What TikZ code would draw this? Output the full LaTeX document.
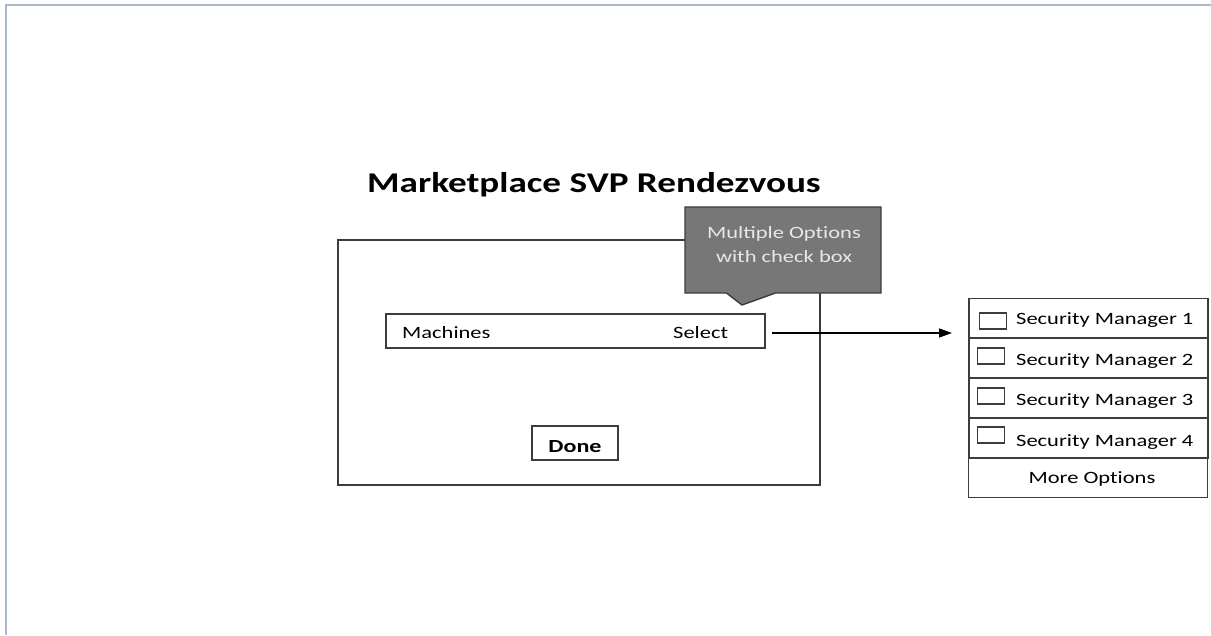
\documentclass[tikz,border=0pt]{standalone}
\usepackage{fontspec}
\setmainfont{Carlito}[FakeStretch=1.3]
\usetikzlibrary{shapes.callouts,arrows.meta}
\definecolor{frameblue}{HTML}{A9BACF}
\definecolor{edge}{HTML}{3C3C3C}
\definecolor{calloutgray}{HTML}{777777}
\definecolor{callouttext}{HTML}{E8E8E8}
\tikzset{
  box/.style={draw=edge, line width=1.4pt, rectangle, inner sep=0pt},
  rowbox/.style={box, minimum width=239pt, minimum height=40pt},
  tick/.style={box, line width=1.1pt, minimum width=27pt, minimum height=16pt},
  label/.style={inner sep=0pt, font=\fontsize{17.3}{20}\selectfont},
  conn/.style={draw=black, line width=1.3pt, -{Triangle[length=13pt,width=9pt]}}
}
\begin{document}
\begin{tikzpicture}[x=1pt,y=-1pt]
\useasboundingbox (0,0) rectangle (1211,635);
% page frame
\draw[frameblue, line width=2pt] (6,635) -- (6,5) -- (1211,5);

% title
\node[inner sep=0pt, anchor=base, font=\bfseries\fontsize{28.6}{32}\selectfont] (title) at (594,192) {Marketplace SVP Rendezvous};

% dialog window
\node[box, minimum width=482pt, minimum height=245pt] (dialog) at (579,362.5) {};
\node[box, minimum width=379pt, minimum height=34pt] (mach) at (575.5,331) {};
\node[label, anchor=base west] (machtxt) at (402,338) {Machines};
\node[label, anchor=base west] (seltxt) at (673,338) {Select};
\node[box, minimum width=86pt, minimum height=34pt] (done) at (575,443) {};
\node[inner sep=0pt, anchor=base, font=\bfseries\fontsize{18.5}{22}\selectfont] (donetxt) at (575,452) {Done};

% callout note
\node[rectangle callout, draw=edge, line width=1.4pt, fill=calloutgray,
      minimum width=196pt, minimum height=86pt, inner sep=0pt,
      callout absolute pointer={(742,305)}, callout pointer width=49pt] (note) at (783,250) {};
\node[label, anchor=base, text=callouttext] (note1) at (784,238) {Multiple Opt\kern0pt ions};
\node[label, anchor=base, text=callouttext] (note2) at (784,262) {with check box};

% option list
\node[rowbox] (sm1) at (1088.5,318.5) {};
\node[rowbox] (sm2) at (1088.5,358) {};
\node[rowbox] (sm3) at (1088.5,398) {};
\node[rowbox] (sm4) at (1088.5,438) {};
\node[rowbox] (more) at (1088,477.5) {};
\node[tick] (c1) at (993,321) {};
\node[tick] (c2) at (991,356) {};
\node[tick] (c3) at (991,396) {};
\node[tick] (c4) at (991,435) {};
\node[label, anchor=base west] (t1) at (1016,324) {Security Manager 1};
\node[label, anchor=base west] (t2) at (1016,365) {Security Manager 2};
\node[label, anchor=base west] (t3) at (1016,405) {Security Manager 3};
\node[label, anchor=base west] (t4) at (1016,446) {Security Manager 4};
\node[label, anchor=base] (moretxt) at (1092,483) {More Opt\kern0pt ions};

% selection arrow
\coordinate (arrowend) at (952,333);
\draw[conn] ([xshift=6pt,yshift=-2pt]mach.east) -- (arrowend);
\end{tikzpicture}
\end{document}
